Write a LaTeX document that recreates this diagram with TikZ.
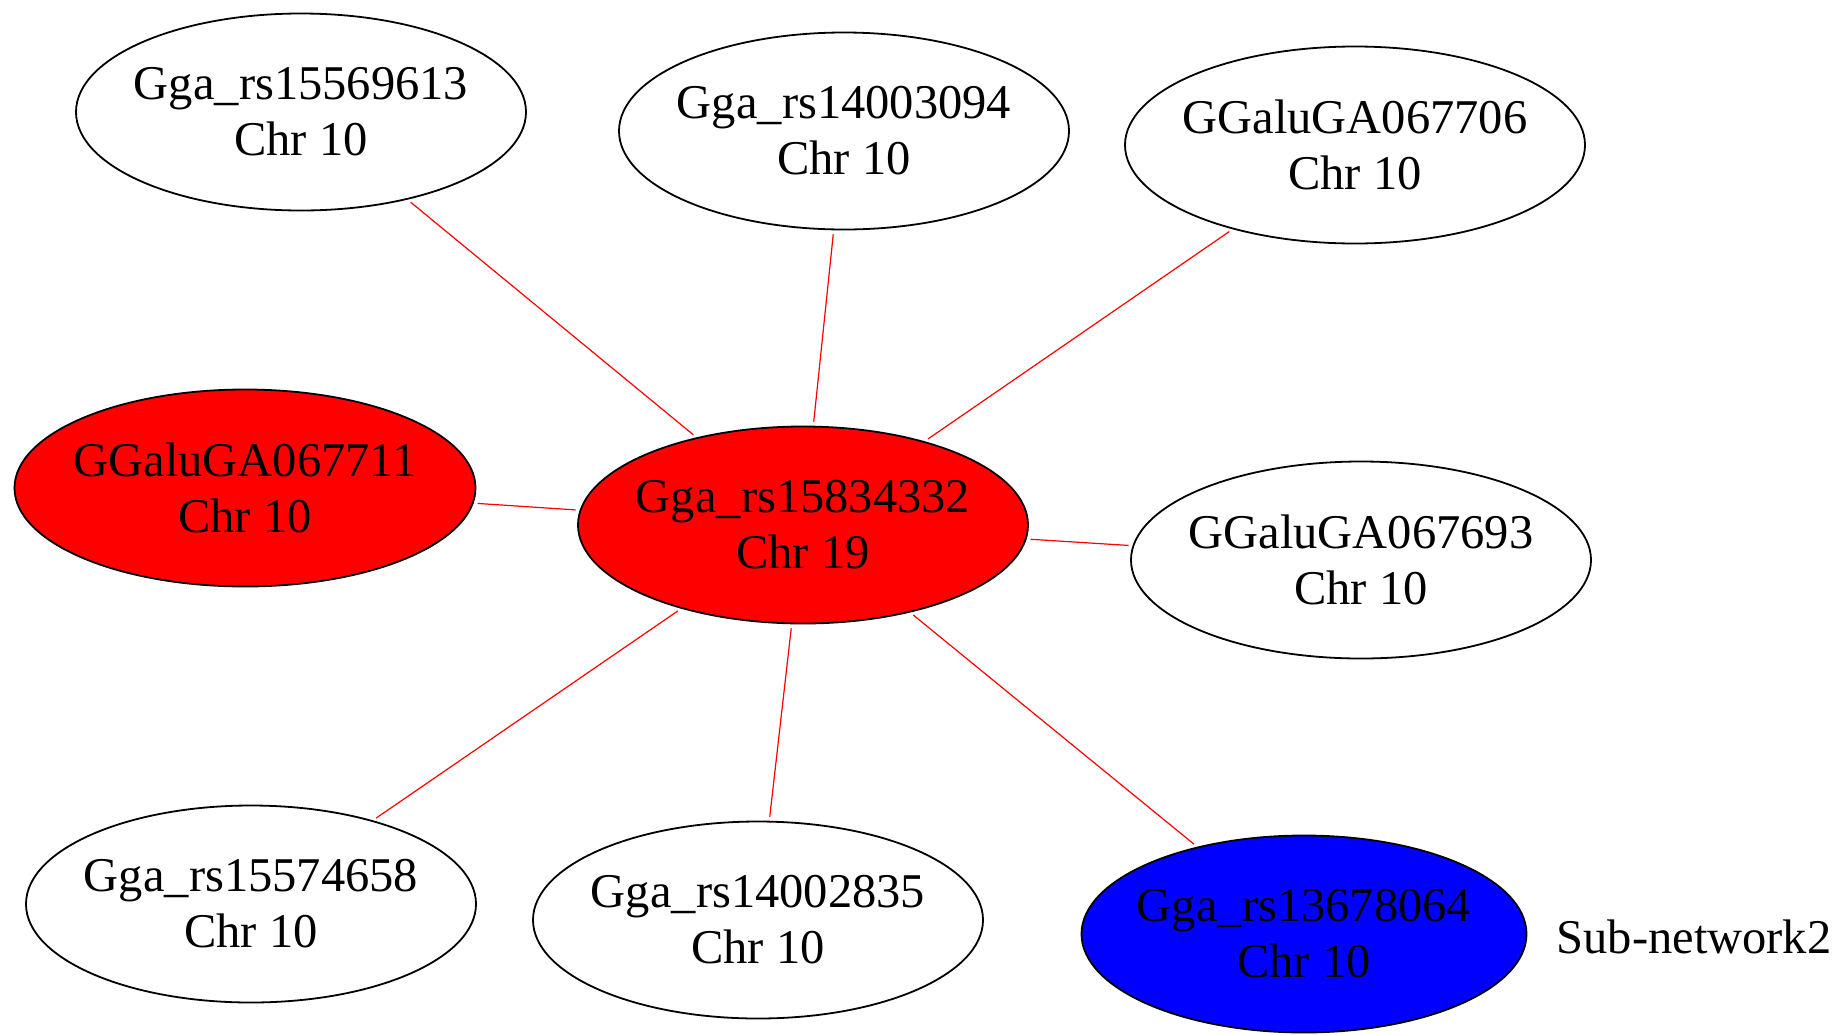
\documentclass[tikz,border=0pt]{standalone}
\usepackage{fontspec}
\setmainfont{Liberation Serif}
\usetikzlibrary{shapes.geometric}

\begin{document}
\begin{tikzpicture}[x=1pt, y=-1pt,
    snp/.style={ellipse, draw=black, line width=1.8pt, inner sep=0pt,
                minimum width=450pt, minimum height=197pt},
    snptext/.style={font=\fontsize{48.5}{56}\selectfont, align=center},
    hubsnp/.style={snp, fill=red},
    keysnp/.style={snp, fill=blue},
    link/.style={draw=red, line width=1.2pt, shorten <=4pt, shorten >=4pt}]

\useasboundingbox (0,0) rectangle (1836,1034);

%% vertices
\node[hubsnp,  label={[snptext]center:Gga\_rs15834332\\Chr 19}] (hub) at (803,525) {};
\node[snp,     label={[snptext]center:Gga\_rs15569613\\Chr 10}] (ta) at (301,112) {};
\node[snp,     label={[snptext]center:Gga\_rs14003094\\Chr 10}] (tb) at (844,131) {};
\node[snp, minimum width=460pt, label={[snptext]center:GGaluGA067706\\Chr 10}] (tc) at (1355,145) {};
\node[hubsnp, minimum width=461pt, label={[snptext]center:GGaluGA067711\\Chr 10}] (ml) at (245,488) {};
\node[snp, minimum width=460pt, label={[snptext]center:GGaluGA067693\\Chr 10}] (mr) at (1361,560) {};
\node[snp,     label={[snptext]center:Gga\_rs15574658\\Chr 10}] (ba) at (251,904) {};
\node[snp,     label={[snptext]center:Gga\_rs14002835\\Chr 10}] (bb) at (758,920) {};
\node[keysnp, minimum width=445pt, label={[snptext]center:Gga\_rs13678064\\Chr 10}] (bc) at (1304,934) {};

%% sub-network label
\node[snptext] (subnet) at (1694,937) {Sub-network2};

%% edges
\draw[link] (hub) -- (ta);
\draw[link] (hub) -- (tb);
\draw[link] (hub) -- (tc);
\draw[link] (hub) -- (ml);
\draw[link] (hub) -- (mr);
\draw[link] (hub) -- (ba);
\draw[link] (hub) -- (bb);
\draw[link] (hub) -- (bc);
\end{tikzpicture}
\end{document}
